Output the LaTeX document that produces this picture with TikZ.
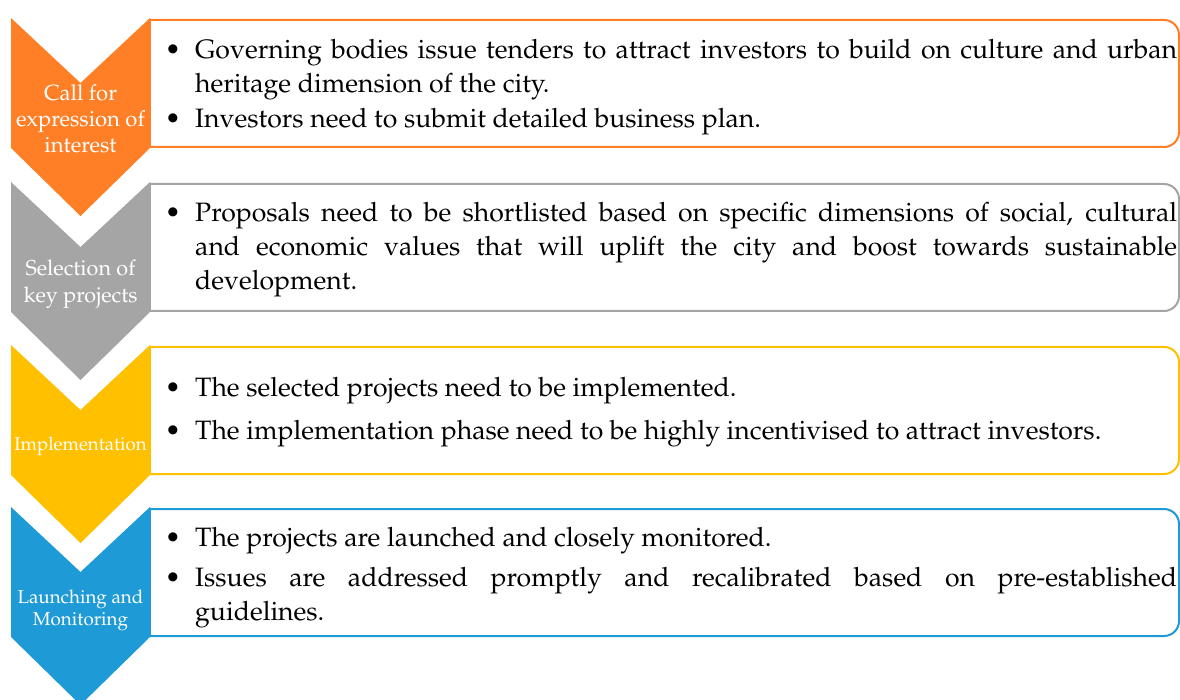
\documentclass[tikz,border=0pt]{standalone}
\usepackage[T1]{fontenc}
\usepackage{mathpazo}
\definecolor{corange}{HTML}{FF7F27}
\definecolor{cgray}{HTML}{A5A5A5}
\definecolor{cyellow}{HTML}{FFC000}
\definecolor{cblue}{HTML}{1E9BD7}
\newcommand\chevshape[3]{\fill[#1] (11,#2) -- (80.5,#2+65) -- (150,#2) -- (150,#2+130) -- (80.5,#2+198) -- (11,#2+130) -- cycle;
  \coordinate (#3) at (80.5,#2+65);}
\newcommand\stepbox[2]{\draw[boxline=#1,rounded corners=15pt] (150,#2+2) -- (1179,#2+2) -- (1179,#2+129) -- (150,#2+129);
  \draw[boxline=#1] (150,#2+2) -- (150,#2+129);}
\begin{document}
\begin{tikzpicture}[x=1pt,y=-1pt,
  boxline/.style={draw=#1,line width=2pt},
  lbl/.style={text=white,align=center,inner sep=0pt},
  txt/.style={anchor=base west,inner sep=0pt,font=\fontsize{26.6}{34}\selectfont},
  bul/.style={anchor=base,inner sep=0pt,font=\fontsize{26.6}{34}\selectfont}]
\useasboundingbox (0,0) rectangle (1180,700);
\clip (0,0) rectangle (1180,700);
% boxes
\stepbox{corange}{18}
\stepbox{cgray}{182}
\stepbox{cyellow}{345}
\stepbox{cblue}{507}
% chevrons
\chevshape{corange}{18}{c1}
\chevshape{cgray}{182}{c2}
\chevshape{cyellow}{345}{c3}
\chevshape{cblue}{507}{c4}
% labels
\node[lbl,font=\fontsize{22}{26}\selectfont] (l1) at (80.5,119) {Call for\\expression of\\interest};
\node[lbl,font=\fontsize{21.6}{27}\selectfont] (l2) at (80.5,284) {Selection of\\key projects};
\node[lbl,font=\fontsize{18.6}{22}\selectfont] (l3) at (80.5,446) {Implementation};
\node[lbl,font=\fontsize{18.8}{22}\selectfont] (l4) at (80.5,610) {Launching and\\Monitoring};
% box 1
\node[bul] (b11) at (173,59) {\textbullet};
\node[txt] (t11) at (195,59) {\makebox[982pt][s]{Governing bodies issue tenders to attract investors to build on culture and urban}};
\node[txt] (t12) at (195,93) {heritage dimension of the city.};
\node[bul] (b12) at (173,128) {\textbullet};
\node[txt] (t13) at (195,128) {Investors need to submit detailed business plan.};
% box 2
\node[bul] (b21) at (173,222) {\textbullet};
\node[txt] (t21) at (195,222) {\makebox[982pt][s]{Proposals need to be shortlisted based on specific dimensions of social, cultural}};
\node[txt] (t22) at (195,256) {\makebox[982pt][s]{and economic values that will uplift the city and boost towards sustainable}};
\node[txt] (t23) at (195,290) {development.};
% box 3
\node[bul] (b31) at (173,396) {\textbullet};
\node[txt] (t31) at (195,396) {The selected projects need to be implemented.};
\node[bul] (b32) at (173,439) {\textbullet};
\node[txt] (t32) at (195,439) {The implementation phase need to be highly incentivised to attract investors.};
% box 4
\node[bul] (b41) at (173,546) {\textbullet};
\node[txt] (t41) at (195,546) {The projects are launched and closely monitored.};
\node[bul] (b42) at (173,586) {\textbullet};
\node[txt] (t42) at (195,586) {\makebox[982pt][s]{Issues are addressed promptly and recalibrated based on pre-established}};
\node[txt] (t43) at (195,620) {guidelines.};
\end{tikzpicture}
\end{document}
